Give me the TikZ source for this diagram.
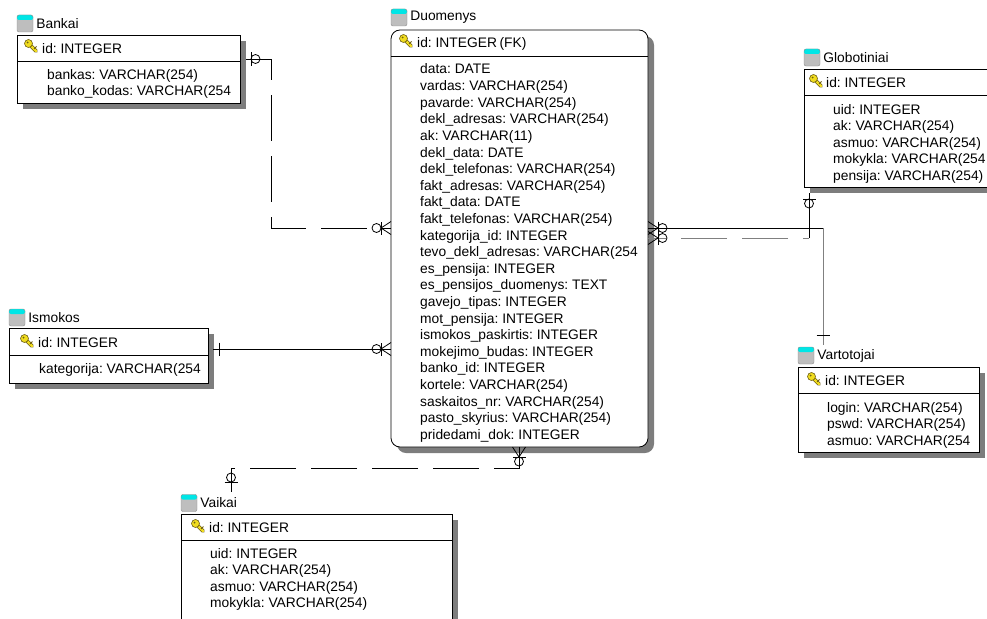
\documentclass[tikz,border=0pt]{standalone}
\usepackage{fontspec}
\setmainfont{Liberation Sans}
\usetikzlibrary{positioning}
\usetikzlibrary{calc}
\usetikzlibrary{shadows}
\definecolor{iconcyan}{RGB}{0,230,230}
\definecolor{icongray}{RGB}{190,190,190}
\definecolor{keyyellow}{RGB}{240,220,30}
\definecolor{keyedge}{RGB}{110,95,20}
\definecolor{shadowgray}{RGB}{125,125,125}
\definecolor{selgray}{RGB}{128,128,128}
\newcommand{\erfont}{\fontsize{13.8}{16}\selectfont\spaceskip=2.6pt\relax}
\tikzset{conn/.style={draw=black, line width=0.8pt}}
\tikzset{fkdash/.style={dash pattern=on 46pt off 15pt}}
\tikzset{
    tablebox/.style={draw=black, line width=0.8pt, fill=white, anchor=north west,
        inner sep=0pt, outer sep=0pt,
        drop shadow={shadow xshift=6pt, shadow yshift=-6pt, fill=shadowgray, opacity=1}},
    tblicon/.style={minimum width=16pt, minimum height=17pt, inner sep=0pt,
        rounded corners=2pt, fill=icongray, draw=black!45, line width=0.4pt,
        path picture={\fill[iconcyan] (path picture bounding box.north west)
            rectangle ([yshift=-5pt]path picture bounding box.north east);}},
    tabletitle/.style={inner sep=0pt, font=\erfont},
    fieldtext/.style={anchor=base west, inner sep=0pt, font=\erfont}
}
\tikzset{
    keyicon/.pic={
        \draw[keyedge, line width=3.8pt, line cap=round] (-2,-2) -- (5,5);
        \draw[keyyellow, line width=2.2pt, line cap=round] (-2,-2) -- (5,5);
        \draw[keyedge, line width=0.8pt] (3,3) -- (5.5,0.5);
        \draw[keyedge, fill=keyyellow, line width=0.6pt] (-2.5,-2.5) circle (4pt);
        \fill[keyedge] (-3.5,-3.5) circle (1pt);
    },
    optone/.pic={
        \draw[conn] (0,-6.5) -- (0,6.5);
        \draw[conn] (4.5,0) circle (4.5pt);
    },
    onlyone/.pic={
        \draw[conn] (0,-6.5) -- (0,6.5);
    },
    optmany/.pic={
        \draw[conn] (-10,-6.5) -- (0,0) -- (-10,6.5);
        \draw[conn] (0,-6.5) -- (0,6.5);
        \draw[conn] (4.5,0) circle (4.5pt);
    }
}
\begin{document}
\begin{tikzpicture}[x=1pt, y=-1pt]
    \useasboundingbox (0,0) rectangle (987,618);
    \clip (0,0) rectangle (987,618);

    % Bankai
    \node[tablebox, minimum width=223pt, minimum height=68pt] (bank) at (17,35) {};
    \draw[conn] ([yshift=-26pt]bank.north west) -- ([yshift=-26pt]bank.north east);
    \node[tblicon] (bankicon) at (25,23.5) {};
    \node[tabletitle, right=3pt of bankicon] (banktitle) {Bankai};
    \pic at (31,46) {keyicon};
    \node[fieldtext] (bankid) at (42,53) {id: INTEGER};
    \foreach \f [count=\i] in {bankas: VARCHAR(254), banko\_kodas: VARCHAR(254}
        \node[fieldtext] (bank\i) at (47,{62.4+16.6*\i}) {\f};

    % Duomenys
    \node[tablebox, rounded corners=9pt, minimum width=257pt, minimum height=417pt] (duo) at (391,30) {};
    \draw[conn] ([yshift=-26pt]duo.north west) -- ([yshift=-26pt]duo.north east);
    \node[tblicon] (duoicon) at (399,17.5) {};
    \node[tabletitle, right=3pt of duoicon] (duotitle) {Duomenys};
    \pic at (406,41) {keyicon};
    \node[fieldtext] (duoid) at (417,48) {id: INTEGER (FK)};
    \foreach \f [count=\i] in {data: DATE, vardas: VARCHAR(254), pavarde: VARCHAR(254),
        dekl\_adresas: VARCHAR(254), ak: VARCHAR(11), dekl\_data: DATE,
        dekl\_telefonas: VARCHAR(254), fakt\_adresas: VARCHAR(254), fakt\_data: DATE,
        fakt\_telefonas: VARCHAR(254), kategorija\_id: INTEGER,
        tevo\_dekl\_adresas: VARCHAR(254, es\_pensija: INTEGER,
        es\_pensijos\_duomenys: TEXT, gavejo\_tipas: INTEGER, mot\_pensija: INTEGER,
        ismokos\_paskirtis: INTEGER, mokejimo\_budas: INTEGER, banko\_id: INTEGER,
        kortele: VARCHAR(254), saskaitos\_nr: VARCHAR(254), pasto\_skyrius: VARCHAR(254),
        pridedami\_dok: INTEGER}
        \node[fieldtext] (duo\i) at (420,{57.4+16.6*\i}) {\f};

    % Globotiniai
    \node[tablebox, minimum width=190pt, minimum height=118pt] (glob) at (804,69) {};
    \draw[conn] ([yshift=-26pt]glob.north west) -- ([yshift=-26pt]glob.north east);
    \node[tblicon] (globicon) at (812,57.5) {};
    \node[tabletitle, right=3pt of globicon] (globtitle) {Globotiniai};
    \pic at (816,81) {keyicon};
    \node[fieldtext] (globid) at (826,87) {id: INTEGER};
    \foreach \f [count=\i] in {uid: INTEGER, ak: VARCHAR(254), asmuo: VARCHAR(254),
        mokykla: VARCHAR(254, pensija: VARCHAR(254)}
        \node[fieldtext] (glob\i) at (833,{97.4+16.6*\i}) {\f};

    % Ismokos
    \node[tablebox, minimum width=199pt, minimum height=55pt] (ism) at (9,328) {};
    \draw[conn] ([yshift=-27pt]ism.north west) -- ([yshift=-27pt]ism.north east);
    \node[tblicon] (ismicon) at (17,317.5) {};
    \node[tabletitle, right=3pt of ismicon] (ismtitle) {Ismokos};
    \pic at (27,341) {keyicon};
    \node[fieldtext] (ismid) at (38,347) {id: INTEGER};
    \node[fieldtext] (ism1) at (39,373) {kategorija: VARCHAR(254};

    % Vartotojai
    \node[tablebox, minimum width=181pt, minimum height=85pt] (vart) at (798,367) {};
    \draw[conn] ([yshift=-26pt]vart.north west) -- ([yshift=-26pt]vart.north east);
    \node[tblicon] (varticon) at (806,355.5) {};
    \node[tabletitle, right=3pt of varticon] (varttitle) {Vartotojai};
    \pic at (814,379) {keyicon};
    \node[fieldtext] (vartid) at (825,385) {id: INTEGER};
    \foreach \f [count=\i] in {login: VARCHAR(254), pswd: VARCHAR(254), asmuo: VARCHAR(254}
        \node[fieldtext] (vart\i) at (827,{395.4+16.6*\i}) {\f};

    % Vaikai
    \node[tablebox, minimum width=271pt, minimum height=130pt] (vaik) at (181,514) {};
    \draw[conn] ([yshift=-26pt]vaik.north west) -- ([yshift=-26pt]vaik.north east);
    \node[tblicon] (vaikicon) at (189,503) {};
    \node[tabletitle, right=3pt of vaikicon] (vaiktitle) {Vaikai};
    \pic at (198,526) {keyicon};
    \node[fieldtext] (vaikid) at (209,532) {id: INTEGER};
    \foreach \f [count=\i] in {uid: INTEGER, ak: VARCHAR(254), asmuo: VARCHAR(254),
        mokykla: VARCHAR(254)}
        \node[fieldtext] (vaik\i) at (210,{541.4+16.6*\i}) {\f};

    % relationships
    \coordinate (bk) at (271,59);
    \coordinate (bkd) at (271,228);
    \draw[conn, fkdash] ($(bank.east |- bk)+(6,0)$) -- (bk) -- (bkd) -- (duo.west |- bkd);
    \pic at ($(bank.east |- bk)+(11,0)$) {optone};
    \pic[rotate=180] at ($(duo.west |- bkd)+(-10,0)$) {optmany};

    \coordinate (im) at (300,349);
    \draw[conn] ($(ism.east |- im)+(5,0)$) -- (duo.west |- im);
    \pic at ($(ism.east |- im)+(11,0)$) {onlyone};
    \pic[rotate=180] at ($(duo.west |- im)+(-10,0)$) {optmany};

    \coordinate (vc) at (823,228);
    \draw[conn] (duo.east |- vc) -- (vc);
    \draw[conn, draw=selgray] (vc) -- ($(vart.north -| vc)+(0,-22)$);
    \pic[rotate=90] at ($(vart.north -| vc)+(0,-32)$) {onlyone};
    \pic at ($(duo.east |- vc)+(10,0)$) {optmany};

    \coordinate (gc) at (809,238);
    \draw[conn] ($(glob.south -| gc)+(0,6)$) -- (gc);
    \draw[conn, draw=selgray, fkdash, dash phase=40pt] (gc) -- (duo.east |- gc);
    \pic[rotate=-90] at ($(glob.south -| gc)+(0,12)$) {optone};
    \pic at ($(duo.east |- gc)+(10,0)$) {optmany};

    \coordinate (vk1) at (519,468);
    \coordinate (vk2) at (231,468);
    \draw[conn, fkdash] (duo.south -| vk1) -- (vk1) -- (vk2) -- ($(vaik.north -| vk2)+(0,-22)$);
    \pic[rotate=-90] at ($(duo.south -| vk1)+(0,10)$) {optmany};
    \pic[rotate=90] at ($(vaik.north -| vk2)+(0,-32)$) {optone};
\end{tikzpicture}
\end{document}
